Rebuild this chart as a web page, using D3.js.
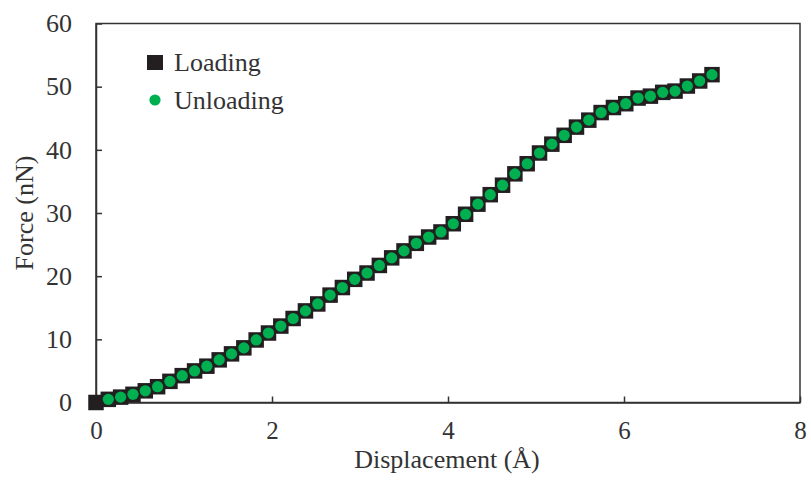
<!DOCTYPE html>
<html><head><meta charset="utf-8">
<script src="https://cdn.jsdelivr.net/npm/d3@7"></script>
<style>body{margin:0;background:#fff}svg{display:block}text{font-family:"Liberation Serif","Times New Roman",serif;fill:#333}</style>
</head><body>
<svg id="c" width="811" height="489"></svg>
<script>
const xTicks = [0, 2, 4, 6, 8];
const yTicks = [0, 10, 20, 30, 40, 50, 60];
const loadingX = [0,0.14,0.28,0.42,0.56,0.70,0.84,0.98,1.12,1.26,1.40,1.54,1.68,1.82,1.96,2.10,2.24,2.38,2.52,2.66,2.80,2.94,3.08,3.22,3.36,3.50,3.64,3.78,3.92,4.06,4.20,4.34,4.48,4.62,4.76,4.90,5.04,5.18,5.32,5.46,5.60,5.74,5.88,6.02,6.16,6.30,6.44,6.58,6.72,6.86,7.00];
const loadingY = [0,0.5,0.85,1.3,1.85,2.5,3.35,4.25,5.0,5.75,6.75,7.7,8.65,9.9,11.0,12.1,13.3,14.5,15.6,17.0,18.2,19.5,20.5,21.7,22.9,24.0,25.2,26.2,27.0,28.3,29.8,31.4,32.9,34.4,36.2,37.8,39.5,40.9,42.3,43.6,44.7,45.9,46.7,47.3,48.2,48.5,49.1,49.3,50.1,50.9,51.9];
const unloadingX = [0.14,0.28,0.42,0.56,0.70,0.84,0.98,1.12,1.26,1.40,1.54,1.68,1.82,1.96,2.10,2.24,2.38,2.52,2.66,2.80,2.94,3.08,3.22,3.36,3.50,3.64,3.78,3.92,4.06,4.20,4.34,4.48,4.62,4.76,4.90,5.04,5.18,5.32,5.46,5.60,5.74,5.88,6.02,6.16,6.30,6.44,6.58,6.72,6.86,7.00];
const unloadingY = [0.5,0.85,1.3,1.85,2.5,3.35,4.25,5.0,5.75,6.75,7.7,8.65,9.9,11.0,12.1,13.3,14.5,15.6,17.0,18.2,19.5,20.5,21.7,22.9,24.0,25.2,26.2,27.0,28.3,29.8,31.4,32.9,34.4,36.2,37.8,39.5,40.9,42.3,43.6,44.7,45.9,46.7,47.3,48.2,48.5,49.1,49.3,50.1,50.9,51.9];
const seriesNames = ["Loading", "Unloading"];

const svg = d3.select("#c");
const L = 96, R = 800, T = 23.5, B = 402.5;
const x = d3.scaleLinear().domain([0, 8]).range([L, R]);
const y = d3.scaleLinear().domain([0, 60]).range([B, T]);
const ink = "#333";

// frame
svg.append("rect").attr("x", L).attr("y", T).attr("width", R - L).attr("height", B - T)
  .attr("fill", "none").attr("stroke", ink).attr("stroke-width", 1.5);

const fs = 26;
const gx = svg.append("g").attr("transform", `translate(0,${B})`)
  .call(d3.axisBottom(x).tickValues(xTicks).tickSizeInner(-6).tickSizeOuter(0).tickPadding(19).tickFormat(d3.format("d")));
const gy = svg.append("g").attr("transform", `translate(${L},0)`)
  .call(d3.axisLeft(y).tickValues(yTicks).tickSizeInner(-6).tickSizeOuter(0).tickPadding(24).tickFormat(d3.format("d")));
[gx, gy].forEach(g => {
  g.select(".domain").attr("stroke", ink).attr("stroke-width", 1.5);
  g.selectAll(".tick line").attr("stroke", ink).attr("stroke-width", 1.5);
  g.selectAll(".tick text").attr("font-size", fs).attr("font-family", "Liberation Serif").attr("fill", ink);
});
gx.selectAll(".tick text").attr("font-size", 25);

svg.append("text").attr("x", (L + R) / 2 - 1).attr("y", 468).attr("text-anchor", "middle")
  .attr("font-size", fs).text("Displacement (Å)");
svg.append("text").attr("transform", `translate(33,${(T + B) / 2}) rotate(-90)`).attr("text-anchor", "middle")
  .attr("font-size", fs).text("Force (nN)");

const sq = 15.5, rad = 5.6;
const black = "#231f20", green = "#00b050";
const ld = loadingX.map((v, i) => [v, loadingY[i]]);
const ud = unloadingX.map((v, i) => [v, unloadingY[i]]);
svg.append("g").selectAll("rect").data(ld).join("rect")
  .attr("x", d => x(d[0]) - sq / 2).attr("y", d => y(d[1]) - sq / 2)
  .attr("width", sq).attr("height", sq).attr("fill", black);
svg.append("g").selectAll("circle").data(ud).join("circle")
  .attr("cx", d => x(d[0])).attr("cy", d => y(d[1])).attr("r", rad).attr("fill", green);

// legend
const lg = svg.append("g");
lg.append("rect").attr("x", 147).attr("y", 55).attr("width", 16).attr("height", 15).attr("fill", black);
lg.append("circle").attr("cx", 155).attr("cy", 100).attr("r", 5.6).attr("fill", green);
lg.append("text").attr("x", 174).attr("y", 71).attr("font-size", fs).text(seriesNames[0]);
lg.append("text").attr("x", 174).attr("y", 109).attr("font-size", fs).text(seriesNames[1]);
</script>
</body></html>
